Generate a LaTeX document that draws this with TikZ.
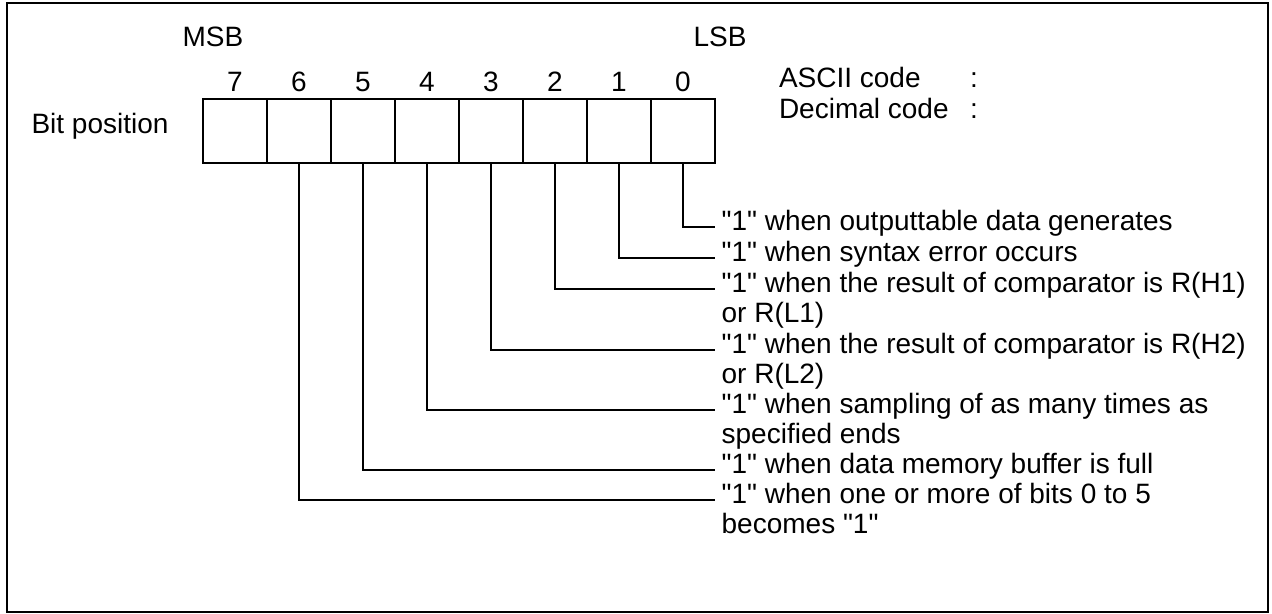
\documentclass[tikz,border=0pt]{standalone}
\usepackage{fontspec}
\setmainfont{Liberation Sans}
\usetikzlibrary{positioning}
\newcommand{\qt}{\textquotedbl}
\tikzset{
  txt/.style={inner sep=0pt, font=\fontsize{21}{22.7}\selectfont},
  desc/.style={txt, anchor=mid west, outer xsep=5pt},
  cell/.style={draw, line width=1.5pt, minimum width=48pt, minimum height=48pt, inner sep=0pt},
  wire/.style={line width=1.4pt},
}
\begin{document}
\begin{tikzpicture}[x=0.75pt,y=0.75pt,yscale=-1,xscale=1]
    \useasboundingbox (0,0) rectangle (1272,614);
    %Frame
    \draw [line width=1.8pt] (7,3) rectangle (1268,612);

    %Register cells and bit numbers
    \foreach \i in {0,...,7}{
      \node [cell] (b\i) at ({235+64*(7-\i)},131) {};
      \node [txt, above=4.5pt of b\i] (n\i) {\i};
    }

    % Text Node
    \node [txt] (msb) at (213,37) {MSB};
    % Text Node
    \node [txt] (lsb) at (720,37) {LSB};
    % Text Node
    \node [txt] (bitpos) at (100,126) {Bit position};
    % Text Node
    \node [desc, outer xsep=0pt] (ascii) at (779,84) {ASCII code};
    % Text Node
    \node [desc, outer xsep=0pt] (dec) at (779,115) {Decimal code};
    % Text Node
    \node [txt, anchor=base] (col1) at (ascii.base -| 974,0) {:};
    % Text Node
    \node [txt, anchor=base] (col2) at (dec.base -| 974,0) {:};

    %Bit descriptions
    \node [desc] (d0) at (715,227) {\qt1\qt{} when outputtable data generates};
    \node [desc] (d1) at (715,258) {\qt1\qt{} when syntax error occurs};
    \node [desc] (d2) at (715,289) {\qt1\qt{} when the result of comparator is R(H1)};
    \node [desc] (e2) at (715,319) {or R(L1)};
    \node [desc] (d3) at (715,350) {\qt1\qt{} when the result of comparator is R(H2)};
    \node [desc] (e3) at (715,380) {or R(L2)};
    \node [desc] (d4) at (715,410) {\qt1\qt{} when sampling of as many times as};
    \node [desc] (e4) at (715,440) {specified ends};
    \node [desc] (d5) at (715,470) {\qt1\qt{} when data memory buffer is full};
    \node [desc] (d6) at (715,500) {\qt1\qt{} when one or more of bits 0 to 5};
    \node [desc] (e6) at (715,530) {becomes \qt1\qt};

    %Connectors
    \foreach \i in {0,...,6}
      \draw [wire] (b\i.south) |- (d\i.mid west);
\end{tikzpicture}
\end{document}
